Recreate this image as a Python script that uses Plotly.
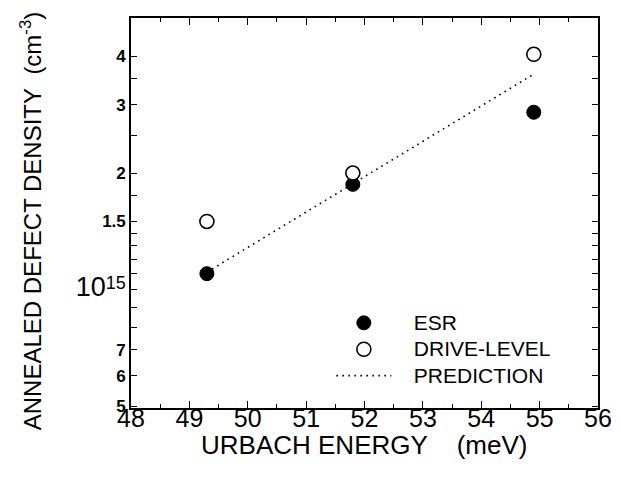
import plotly.graph_objects as go

# Data
energy = [49.3, 51.8, 54.9]
esr = [1.10e15, 1.87e15, 2.87e15]
drive_level = [1.50e15, 2.00e15, 4.05e15]
prediction_x = [49.3, 54.9]
prediction_y = [1.11e15, 3.60e15]

x_ticks = [48, 49, 50, 51, 52, 53, 54, 55, 56]
y_tickvals = [5e14, 6e14, 7e14, 8e14, 9e14, 1e15, 1.1e15, 1.2e15, 1.3e15, 1.4e15,
              1.5e15, 1.75e15, 2e15, 2.5e15, 3e15, 3.5e15, 4e15]
y_ticktext = ["5", "6", "7", "", "",
              "<span style='font-size:27px;font-weight:normal'>10</span>"
              "<sup><span style='font-size:18px;font-weight:normal'>15</span></sup>",
              "", "", "", "", "1.5", "", "2", "", "3", "", "4"]

NB = "\u00a0"
legend_names = ["ESR", "DRIVE-LEVEL", "PREDICTION"]


def legend_label(s):
    return "<span style='font-size:21px'>" + NB * 3 + s + "</span>"


fig = go.Figure()
fig.add_trace(go.Scatter(x=energy, y=esr, mode="markers",
                         name=legend_label(legend_names[0]),
                         marker=dict(symbol="circle", size=14, color="black",
                                     line=dict(color="black", width=1))))
fig.add_trace(go.Scatter(x=energy, y=drive_level, mode="markers",
                         name=legend_label(legend_names[1]),
                         marker=dict(symbol="circle", size=14, color="white",
                                     line=dict(color="black", width=1.6))))
fig.add_trace(go.Scatter(x=prediction_x, y=prediction_y, mode="lines",
                         name=legend_label(legend_names[2]),
                         line=dict(color="black", width=1.6, dash="1.6px,4.4px")))

font_family = "Liberation Sans, Arial, sans-serif"

# page body has an 8px default margin, so the figure is 8px smaller on each axis
fig.update_layout(
    width=612, height=478,
    margin=dict(l=123, r=17, t=8, b=78),
    paper_bgcolor="white", plot_bgcolor="white",
    font=dict(family=font_family, color="black"),
    showlegend=True,
    legend=dict(x=0.429, y=0.265, xanchor="left", yanchor="top",
                bgcolor="rgba(0,0,0,0)", font=dict(size=18, color="black"),
                itemwidth=55, tracegroupgap=0),
    xaxis=dict(
        range=[48, 56], tickvals=x_ticks, ticktext=[str(v) for v in x_ticks],
        ticks="inside", ticklen=7, tickwidth=1.2, tickcolor="black",
        minor=dict(dtick=0.5, ticks="inside", ticklen=4, tickcolor="black", tickwidth=1),
        showline=True, linecolor="black", linewidth=1.6, mirror="ticks",
        showgrid=False, zeroline=False,
        tickfont=dict(size=25, color="black"),
        ticklabelstandoff=-13,
    ),
    yaxis=dict(
        type="log", range=[14.695, 15.701],
        tickvals=y_tickvals, ticktext=y_ticktext,
        ticks="inside", ticklen=6, tickwidth=1.2, tickcolor="black",
        showline=True, linecolor="black", linewidth=1.6, mirror="ticks",
        showgrid=False, zeroline=False,
        tickfont=dict(size=17, color="black", weight="bold"),
        ticklabelstandoff=0,
    ),
    annotations=[
        dict(text="URBACH ENERGY" + NB * 4 + "(meV)", xref="paper", yref="paper",
             x=0.5, y=-0.096, xanchor="center", yanchor="middle", showarrow=False,
             font=dict(size=26, color="black")),
        dict(text="ANNEALED DEFECT DENSITY" + NB * 2 + "(cm<sup>-3</sup>)", xref="paper", yref="paper",
             x=-0.214, y=0.479, xanchor="center", yanchor="middle", showarrow=False,
             textangle=-90, font=dict(size=24, color="black")),
    ],
)

fig.write_html("out.html")
